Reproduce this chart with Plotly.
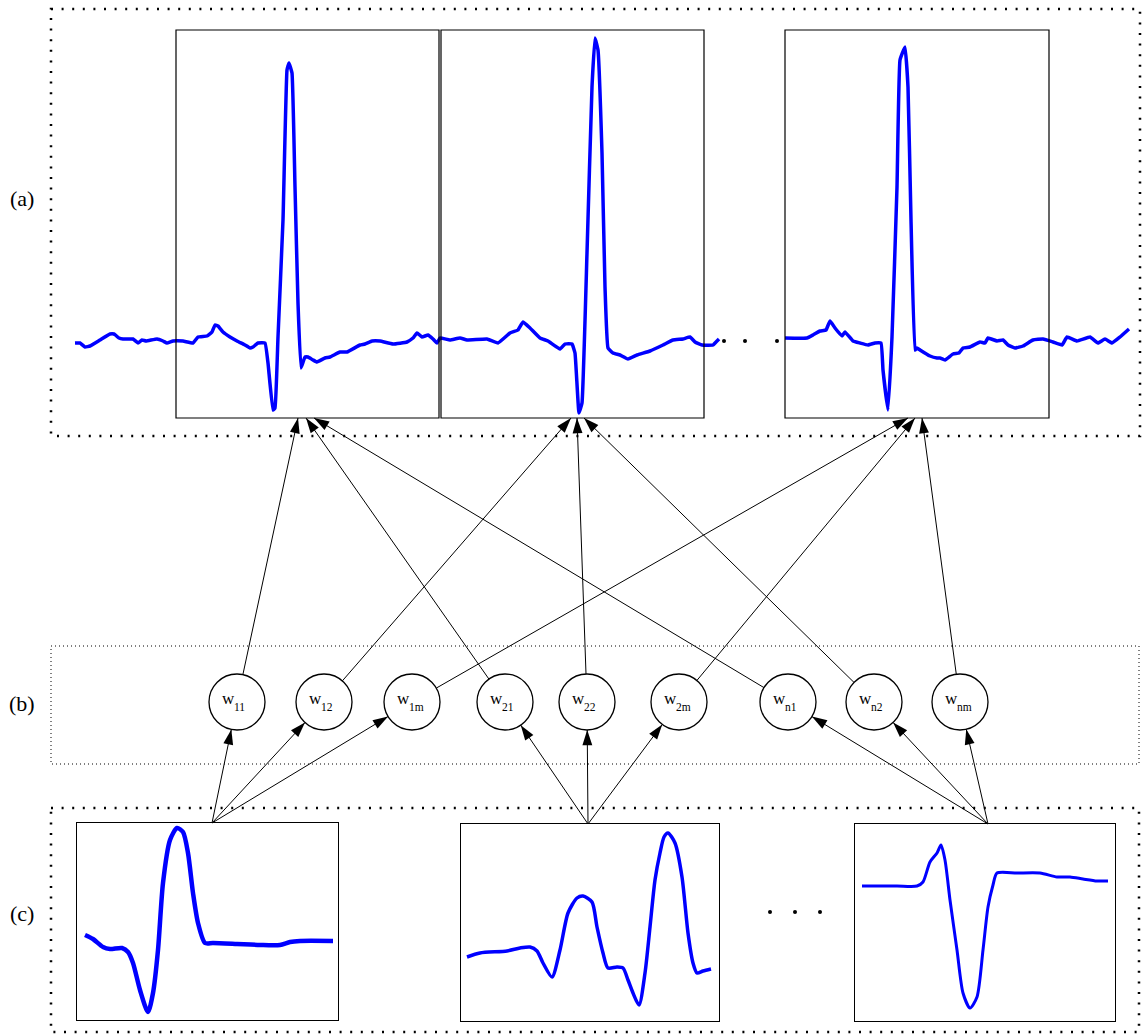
import math
import plotly.graph_objects as go

W, H = 1143, 1035

# ---------------- data ----------------
# Top strip (a): continuous ECG, time in samples, amplitude in mV
TOP_T_A = [0, 5, 10, 15, 25, 35, 39, 44, 48, 58, 63, 67, 71, 82, 88, 92, 98, 108, 118, 123,
           132, 137, 140, 143, 148, 155, 162, 170, 175, 178, 183, 190, 193, 198, 200, 203, 208, 212, 214, 217,
           220, 223, 226, 230, 233, 238, 242, 250, 255, 265, 272, 285, 290, 297, 305, 318, 332, 338, 342, 347,
           353, 358, 362, 365,
           375, 385, 392, 412, 423, 435, 443, 448, 455, 465, 473, 485, 490, 497, 500, 504, 507, 512, 517, 520,
           523, 527, 530, 533, 538, 545, 553, 562, 575, 588, 598, 608, 615, 620, 627, 638, 641, 644]
TOP_MV_A = [-0.03, -0.03, -0.07, -0.06, 0.00, 0.06, 0.06, 0.02, 0.01, 0.01, -0.03, 0.00, -0.01, 0.01, -0.01, -0.03, -0.01, -0.01, -0.03, 0.03,
            0.04, 0.08, 0.15, 0.14, 0.08, 0.03, -0.01, -0.05, -0.08, -0.07, -0.03, -0.03, -0.23, -0.70, -0.68, 0.03, 1.20, 2.70, 2.77, 2.67,
            1.53, 0.37, -0.28, -0.17, -0.17, -0.20, -0.22, -0.18, -0.17, -0.12, -0.12, -0.05, -0.04, -0.01, -0.01, -0.04, -0.02, 0.02, 0.07, 0.03,
            0.05, 0.01, -0.03, 0.02,
            0.00, 0.02, 0.00, 0.01, -0.03, 0.07, 0.10, 0.18, 0.12, 0.02, -0.01, -0.09, -0.04, -0.04, -0.13, -0.73, -0.63, 0.87, 2.53, 3.02,
            2.90, 1.87, 0.53, -0.08, -0.13, -0.15, -0.19, -0.15, -0.11, -0.05, 0.00, 0.01, 0.03, -0.02, -0.05, -0.05, -0.02, 0.01]
TOP_T_B = [710, 732, 738, 745, 751, 755, 760, 767, 770, 778, 785, 793, 800, 806, 808, 813, 817, 822, 825, 830,
           833, 836, 840, 842, 845, 855, 862, 865, 870, 878, 884, 888, 895, 905, 910, 913, 922, 928, 933, 940,
           948, 958, 968, 978, 987, 992, 1002, 1015, 1023, 1030, 1037, 1045, 1054]
TOP_MV_B = [0.02, 0.02, 0.05, 0.09, 0.10, 0.19, 0.12, 0.04, 0.08, -0.01, -0.03, -0.05, -0.03, -0.03, -0.30, -0.70, 0.03, 1.53, 2.80, 2.93,
            2.53, 1.20, -0.10, -0.08, -0.10, -0.16, -0.18, -0.18, -0.20, -0.14, -0.13, -0.08, -0.07, -0.02, -0.03, 0.02, -0.01, 0.00, -0.05, -0.08,
            -0.06, 0.00, 0.01, -0.02, -0.05, 0.03, -0.01, 0.03, -0.03, 0.01, -0.03, 0.03, 0.11]

# Bottom row (c): three representative beats
BOT1_T = [0, 8, 18, 25, 37, 43, 48, 55, 63, 68, 73, 78, 85, 92, 98, 103, 108, 113, 120, 128, 152, 175, 195, 205, 215, 248]
BOT1_MV = [0.08, 0.04, -0.04, -0.06, -0.05, -0.09, -0.20, -0.47, -0.69, -0.50, -0.07, 0.60, 1.03, 1.15, 1.11, 0.90, 0.50, 0.20,
           0.00, 0.00, -0.01, -0.02, -0.02, 0.01, 0.02, 0.02]
BOT2_T = [0, 13, 40, 53, 63, 70, 76, 85, 93, 101, 110, 116, 125, 130, 136, 141, 150, 156, 161, 166,
          172, 178, 183, 188, 193, 197, 201, 208, 215, 221, 226, 230, 236, 244]
BOT2_MV = [-0.06, -0.02, 0.00, 0.03, 0.04, 0.00, -0.12, -0.26, 0.01, 0.38, 0.53, 0.55, 0.49, 0.24, -0.02, -0.17, -0.16, -0.17, -0.29, -0.42,
           -0.54, -0.22, 0.24, 0.71, 0.98, 1.14, 1.18, 1.08, 0.74, 0.18, -0.12, -0.22, -0.20, -0.18]
BOT3_T = [0, 35, 55, 61, 68, 75, 79, 83, 88, 95, 101, 108, 115, 121, 126, 131, 135, 155, 178, 195, 208, 221, 235, 246]
BOT3_MV = [0.00, 0.00, 0.00, 0.04, 0.24, 0.33, 0.41, 0.26, -0.14, -0.64, -1.07, -1.22, -1.11, -0.64, -0.21, 0.01, 0.13,
           0.13, 0.13, 0.09, 0.09, 0.07, 0.05, 0.05]

# Nodes (b): labels and connections (source beat i -> node -> target beat j)
NODE_BASE = "w"
NODE_SUBS = ["11", "12", "1m", "21", "22", "2m", "n1", "n2", "nm"]
NODE_SOURCE = [0, 0, 0, 1, 1, 1, 2, 2, 2]
NODE_TARGET = [0, 1, 2, 0, 1, 2, 0, 1, 2]
PANEL_LABELS = ["(a)", "(b)", "(c)"]

# ---------------- layout geometry (pixels) ----------------
NODE_X = [237, 324, 412, 505, 587, 679, 788, 874, 960]
NODE_Y = 702
NODE_R = 28
TOP_BOXES = [(176, 30, 439, 418), (441, 30, 704, 418), (785, 30, 1049, 418)]
TIP_X = {0: [298, 306, 314], 1: [571, 577, 584], 2: [908, 915, 922]}
BOT_BOXES = [(77, 823, 338, 1020), (461, 824, 719, 1021), (855, 824, 1115, 1021)]
BOT_ORIGIN = [(85, 943), (467, 951), (862, 886)]
APEX = [(212, 823), (588, 824), (988, 824)]
FRAMES = [((51, 9, 1140, 436), 2.5, "2px,8.6px"),
          ((51, 646, 1139, 764), 1.0, "1px,3px"),
          ((51, 808, 1139, 1032), 2.5, "2px,8.6px")]
LABEL_Y = [198, 703, 913]

BLUE = "#0000ff"
FONT = "Liberation Serif, Times New Roman, serif"

fig = go.Figure()


def axis_place(l, t, r, b, ox, oy, sx, sy):
    xdom = [l / W, r / W]
    xr = [(l - ox) / sx, (r - ox) / sx]
    ydom = [(H - b) / H, (H - t) / H]
    yr = [(oy - b) / sy, (oy - t) / sy]
    return xdom, xr, ydom, yr


# canvas axes
fig.update_layout(
    xaxis=dict(range=[0, W], domain=[0, 1], visible=False, fixedrange=True),
    yaxis=dict(range=[H, 0], domain=[0, 1], visible=False, fixedrange=True),
)

# top strip signal axis
xd, xr, yd, yr = axis_place(0, 0, W, H, 75, 340, 1.0, 100.0)
fig.update_layout(
    xaxis2=dict(domain=xd, range=xr, visible=False, anchor="y2"),
    yaxis2=dict(domain=yd, range=yr, visible=False, anchor="x2"),
)
top_t = TOP_T_A + [None] + TOP_T_B
top_mv = TOP_MV_A + [None] + TOP_MV_B
fig.add_trace(go.Scatter(x=top_t, y=top_mv, mode="lines", xaxis="x2", yaxis="y2",
                         line=dict(color=BLUE, width=3.5, shape="spline", smoothing=0.3),
                         connectgaps=False, hoverinfo="skip", showlegend=False))

# bottom beats, each in its own framed axes
bot_series = [(BOT1_T, BOT1_MV, 4.5), (BOT2_T, BOT2_MV, 3.5), (BOT3_T, BOT3_MV, 3.0)]
for i, ((tt, mv, lw), box, org) in enumerate(zip(bot_series, BOT_BOXES, BOT_ORIGIN)):
    n = i + 3
    xd, xr, yd, yr = axis_place(*box, org[0], org[1], 1.0, 100.0)
    ax = dict(showline=True, mirror=True, linecolor="black", linewidth=1.4,
              showticklabels=False, ticks="", showgrid=False, zeroline=False)
    fig.update_layout(**{
        f"xaxis{n}": dict(domain=xd, range=xr, anchor=f"y{n}", **ax),
        f"yaxis{n}": dict(domain=yd, range=yr, anchor=f"x{n}", **ax),
    })
    fig.add_trace(go.Scatter(x=tt, y=mv, mode="lines", xaxis=f"x{n}", yaxis=f"y{n}",
                             line=dict(color=BLUE, width=lw, shape="spline", smoothing=0.7),
                             hoverinfo="skip", showlegend=False))

shapes = []
# dotted panel frames
for (l, t, r, b), w, dash in FRAMES:
    shapes.append(dict(type="rect", xref="x", yref="y", x0=l, y0=t, x1=r, y1=b,
                       line=dict(color="black", width=w, dash=dash), layer="below"))
# top boxes
for (l, t, r, b) in TOP_BOXES:
    shapes.append(dict(type="rect", xref="x", yref="y", x0=l, y0=t, x1=r, y1=b,
                       line=dict(color="black", width=1.2)))
# node circles
for cx in NODE_X:
    shapes.append(dict(type="circle", xref="x", yref="y", x0=cx - NODE_R, y0=NODE_Y - NODE_R,
                       x1=cx + NODE_R, y1=NODE_Y + NODE_R, line=dict(color="black", width=1.3),
                       fillcolor="white"))
fig.update_layout(shapes=shapes)

# arrows: lines + arrowhead markers
line_x, line_y = [], []
head_x, head_y, head_ang = [], [], []


def add_arrow(x0, y0, x1, y1):
    line_x.extend([x0, x1, None])
    line_y.extend([y0, y1, None])
    head_x.append(x1)
    head_y.append(y1)
    # marker angle: clockwise from "up" in screen space (y grows downward here)
    head_ang.append(math.degrees(math.atan2(x1 - x0, -(y1 - y0))))


annotations = []
for k, cx in enumerate(NODE_X):
    tgt = NODE_TARGET[k]
    src = NODE_SOURCE[k]
    # node -> top beat
    tx = TIP_X[tgt][src]
    ty = TOP_BOXES[tgt][3]
    dx, dy = tx - cx, ty - NODE_Y
    d = (dx * dx + dy * dy) ** 0.5
    add_arrow(cx + NODE_R * dx / d, NODE_Y + NODE_R * dy / d, tx, ty)
    # bottom beat -> node
    apx, apy = APEX[src]
    dx, dy = apx - cx, apy - NODE_Y
    d = (dx * dx + dy * dy) ** 0.5
    add_arrow(apx, apy, cx + NODE_R * dx / d, NODE_Y + NODE_R * dy / d)
    # label: base letter + subscript
    annotations.append(dict(x=cx - 2, y=NODE_Y - 4, xref="x", yref="y", text=NODE_BASE,
                            xanchor="right", yanchor="middle", showarrow=False,
                            borderpad=0, borderwidth=0,
                            font=dict(family=FONT, size=17, color="black")))
    annotations.append(dict(x=cx - 3, y=NODE_Y + 5, xref="x", yref="y", text=NODE_SUBS[k],
                            xanchor="left", yanchor="middle", showarrow=False,
                            borderpad=0, borderwidth=0,
                            font=dict(family=FONT, size=11.5, color="black")))

fig.add_trace(go.Scatter(x=line_x, y=line_y, mode="lines", xaxis="x", yaxis="y",
                         line=dict(color="black", width=1), hoverinfo="skip", showlegend=False))
fig.add_trace(go.Scatter(x=head_x, y=head_y, mode="markers", xaxis="x", yaxis="y",
                         marker=dict(symbol="arrow", size=16, color="black", angle=head_ang,
                                     line=dict(width=0)),
                         hoverinfo="skip", showlegend=False))

for lab, ly in zip(PANEL_LABELS, LABEL_Y):
    annotations.append(dict(x=22, y=ly, xref="x", yref="y", text=lab, showarrow=False,
                            font=dict(family=FONT, size=22, color="black")))
fig.update_layout(annotations=annotations)

# ellipsis dots
fig.add_trace(go.Scatter(x=[724, 745, 777], y=[341, 341, 341], mode="markers", xaxis="x", yaxis="y",
                         marker=dict(color="black", size=4), hoverinfo="skip", showlegend=False))
fig.add_trace(go.Scatter(x=[770, 795, 820], y=[912, 912, 912], mode="markers", xaxis="x", yaxis="y",
                         marker=dict(color="black", size=4), hoverinfo="skip", showlegend=False))

fig.update_layout(width=W, height=H, margin=dict(l=0, r=0, t=0, b=0),
                  paper_bgcolor="white", plot_bgcolor="rgba(0,0,0,0)", showlegend=False)

fig.write_html("out.html", config={"displayModeBar": False},
               post_script="document.body.style.margin='0';")
